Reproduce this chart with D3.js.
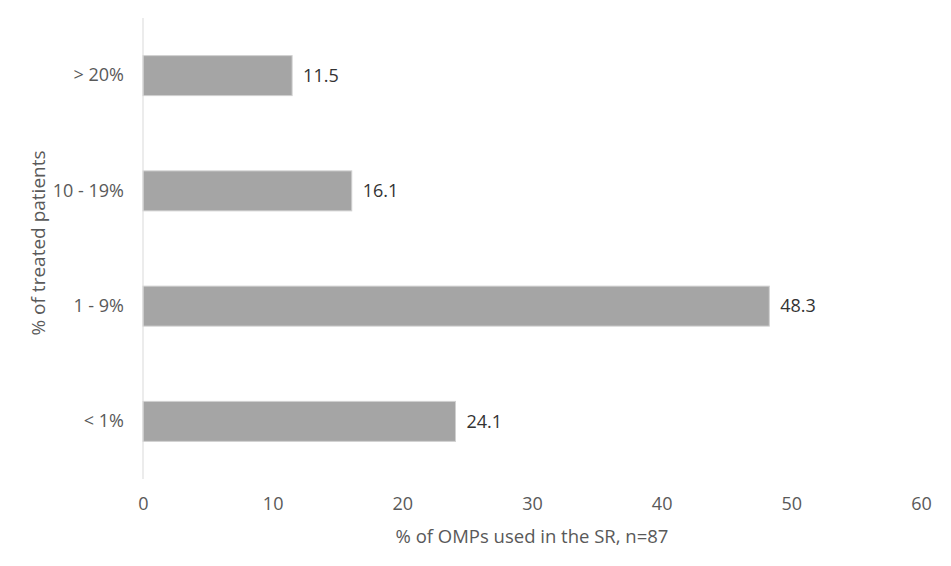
<!DOCTYPE html>
<html>
<head>
<meta charset="utf-8">
<script src="https://cdn.jsdelivr.net/npm/d3@7"></script>
<style>
  body { margin: 0; background: #fff; }
  text { font-family: "Open Sans", sans-serif; }
</style>
</head>
<body>
<div id="chart"></div>
<script>
// categories top to bottom, values in %
var categories = ["> 20%", "10 - 19%", "1 - 9%", "< 1%"];
var values = [11.5, 16.1, 48.3, 24.1];
var xTicks = [0, 10, 20, 30, 40, 50, 60];

var width = 951, height = 566;
var plotLeft = 143, plotRight = 921, plotTop = 18, plotBottom = 479;

var svg = d3.select("#chart").append("svg")
    .attr("width", width)
    .attr("height", height);

var x = d3.scaleLinear().domain([0, 60]).range([plotLeft, plotRight]);
var y = d3.scaleBand().domain(categories).range([plotTop, plotBottom]).paddingInner(0.653).paddingOuter(0.3265);

// bars
svg.selectAll("rect.bar")
    .data(values)
    .enter()
    .append("rect")
    .attr("class", "bar")
    .attr("x", x(0))
    .attr("y", (d, i) => y(categories[i]))
    .attr("width", d => x(d) - x(0))
    .attr("height", y.bandwidth())
    .style("fill", "#a5a5a5")
    .style("stroke", "#d0d0d0")
    .style("stroke-width", 1);

// vertical axis line
svg.append("line")
    .attr("x1", x(0)).attr("x2", x(0))
    .attr("y1", plotTop).attr("y2", plotBottom)
    .style("stroke", "#d9d9d9")
    .style("stroke-width", 1);

// value labels
svg.selectAll("text.value")
    .data(values)
    .enter()
    .append("text")
    .attr("class", "value")
    .attr("x", d => x(d) + 11)
    .attr("y", (d, i) => y(categories[i]) + y.bandwidth() / 2)
    .attr("dy", "0.35em")
    .style("font-size", "18px")
    .style("fill", "#333333")
    .text(d => d.toFixed(1));

// category labels
var yAxis = d3.axisLeft(y).tickSize(0).tickPadding(19);
var gy = svg.append("g").attr("transform", "translate(" + x(0) + ",0)").call(yAxis);
gy.select(".domain").remove();
gy.selectAll("text").style("font-size", "18px").style("fill", "#595959").style("font-family", "Open Sans");

// x tick labels
var xAxis = d3.axisBottom(x).tickValues(xTicks).tickSize(0).tickPadding(18);
var gx = svg.append("g").attr("transform", "translate(0," + plotBottom + ")").call(xAxis);
gx.select(".domain").remove();
gx.selectAll("text").style("font-size", "18px").style("fill", "#595959").style("font-family", "Open Sans");

// axis titles
svg.append("text")
    .attr("x", 532)
    .attr("y", 543)
    .attr("text-anchor", "middle")
    .style("font-size", "18.5px")
    .style("fill", "#595959")
    .text("% of OMPs used in the SR, n=87");

svg.append("text")
    .attr("transform", "translate(38,243) rotate(-90)")
    .attr("dy", "0.35em")
    .attr("text-anchor", "middle")
    .style("font-size", "19px")
    .style("fill", "#595959")
    .text("% of treated patients");
</script>
</body>
</html>
